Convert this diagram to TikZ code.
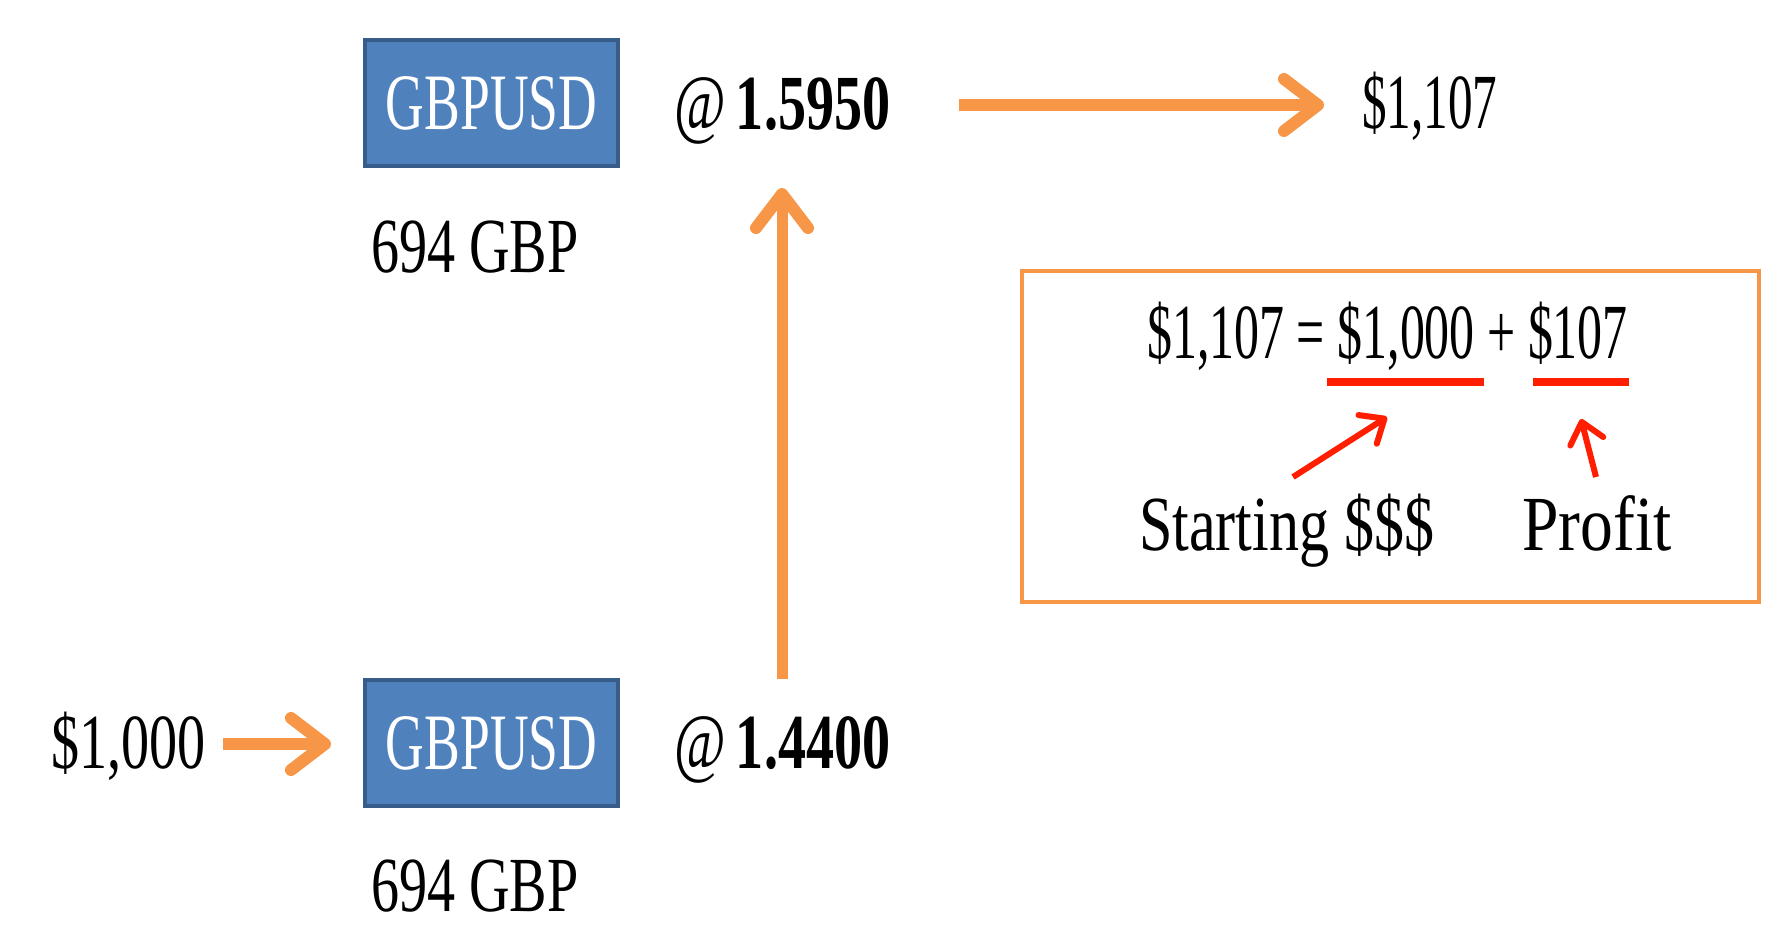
\documentclass[tikz,border=0pt]{standalone}
\usepackage{fontspec}
\usetikzlibrary{arrows.meta}
\newfontfamily\condA[FakeStretch=0.63]{Liberation Serif}
\newfontfamily\condB[FakeStretch=0.67]{Liberation Serif}
\newfontfamily\condQ[FakeStretch=0.64]{Liberation Serif}
\newfontfamily\condC[FakeStretch=0.72]{Liberation Serif}
\newfontfamily\condD[FakeStretch=0.77]{Liberation Serif}
\newfontfamily\condE[FakeStretch=0.84]{Liberation Serif}
\definecolor{oxorange}{RGB}{247,150,70}
\definecolor{oxblue}{RGB}{79,129,189}
\definecolor{oxblueedge}{RGB}{56,93,138}
\definecolor{oxred}{RGB}{255,30,0}
\tikzset{
  txt/.style={anchor=base west,inner sep=0pt,font=\condC\fontsize{78}{80}\selectfont},
  pairbox/.style={draw=oxblueedge,line width=4pt,fill=oxblue,minimum width=253pt,minimum height=126pt,inner sep=0pt,text=white,font=\condB\fontsize{80}{82}\selectfont},
  oarrow/.style={draw=oxorange,line width=12pt,-{Straight Barb[length=34pt,width=52pt,line width=12pt,round]}},
  rarrow/.style={draw=oxred,line width=6pt,-{Straight Barb[length=20pt,width=34pt,line width=6pt,round]}},
  uline/.style={draw=oxred,line width=8pt},
  sumbox/.style={draw=oxorange,line width=4pt}
}
\begin{document}
\begin{tikzpicture}[x=1pt,y=-1pt]
\useasboundingbox[fill=white] (0,0) rectangle (1790,943);
% top row
\node[pairbox] (box1) at (491.5,103) {GBPUSD};
\node[txt] (rate1) at (674,129) {@\hspace{10pt}\bfseries 1.5950};
\node[txt,font=\condA\fontsize{78}{80}\selectfont] (final) at (1362,128) {\$1,107};
\node[txt] (gbp1) at (371,272) {694 GBP};
% bottom row
\node[pairbox] (box2) at (491.5,743) {GBPUSD};
\node[txt,font=\condC\fontsize{78}{80}\selectfont] (start) at (51,768) {\$1,000};
\node[txt] (rate2) at (674,768) {@\hspace{10pt}\bfseries 1.4400};
\node[txt] (gbp2) at (371,911) {694 GBP};
% summary box
\draw[sumbox] (1022,271) rectangle (1759,602);
\node[txt,font=\condQ\fontsize{78}{80}\selectfont] (eq) at (1147,358) {\$1,107 = \$1,000 + \$107};
\node[txt,font=\condD\fontsize{78}{80}\selectfont] (lstart) at (1139,550) {Starting \$\$\$};
\node[txt,font=\condE\fontsize{78}{80}\selectfont] (lprofit) at (1522,550) {Profit};
\coordinate (u1a) at (1327,382);
\coordinate (u1b) at (1484,382);
\coordinate (u2a) at (1533,382);
\coordinate (u2b) at (1629,382);
\draw[uline] (u1a) -- (u1b);
\draw[uline] (u2a) -- (u2b);
% connectors
\coordinate (a1s) at (223,744);
\coordinate (a1e) at (331,744);
\draw[oarrow] (a1s) -- (a1e);
\coordinate (vs) at (782,679);
\coordinate (ve) at (782,188);
\draw[oarrow,line width=11pt] (vs) -- (ve);
\coordinate (hs) at (959,105);
\coordinate (he) at (1324,105);
\draw[oarrow] (hs) -- (he);
\coordinate (r1s) at (1293,477);
\coordinate (r1e) at (1387,417);
\draw[rarrow] (r1s) -- (r1e);
\coordinate (r2s) at (1596,477);
\coordinate (r2e) at (1581,419);
\draw[rarrow] (r2s) -- (r2e);
\end{tikzpicture}
\end{document}
